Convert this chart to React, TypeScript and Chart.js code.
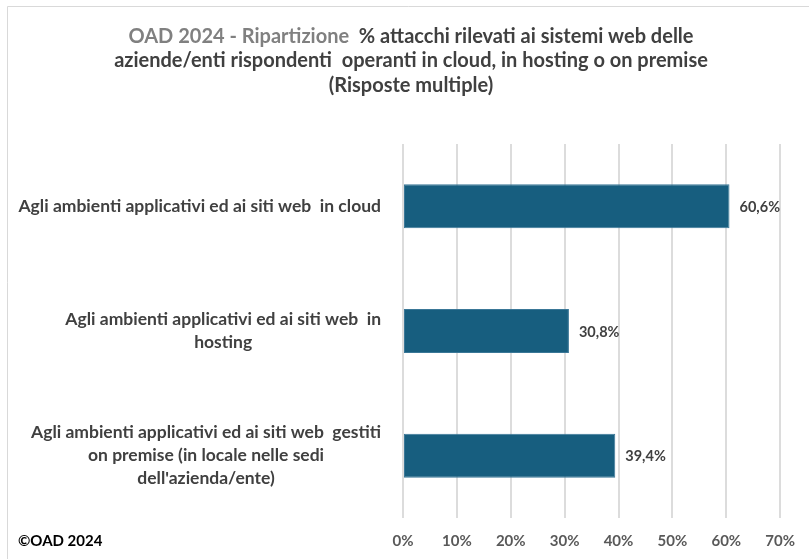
import React, { useEffect, useRef } from "react";
import { Chart, registerables } from "chart.js";

Chart.register(...registerables);

const categories: string[][] = [
  ["Agli ambienti applicativi ed ai siti web  in cloud"],
  ["Agli ambienti applicativi ed ai siti web  in", "hosting"],
  ["Agli ambienti applicativi ed ai siti web  gestiti", "on premise (in locale nelle sedi", "dell'azienda/ente)"],
];
const values: number[] = [60.6, 30.8, 39.4];
const xTicks: number[] = [0, 10, 20, 30, 40, 50, 60, 70];
const titleGray = "OAD 2024 - Ripartizione";
const titleLines: string[] = [
  "  % attacchi rilevati ai sistemi web delle",
  "aziende/enti rispondenti  operanti in cloud, in hosting o on premise",
  "(Risposte multiple)",
];
const footer = "©OAD 2024";

const FONT = "Lato, 'Open Sans', sans-serif";

const decorPlugin = {
  id: "decor",
  beforeDraw(chart: any) {
    const ctx = chart.ctx;
    ctx.save();
    ctx.fillStyle = "#ffffff";
    ctx.fillRect(0, 0, chart.width, chart.height);
    ctx.strokeStyle = "#d9d9d9";
    ctx.lineWidth = 1;
    ctx.beginPath();
    ctx.moveTo(7.5, chart.height);
    ctx.lineTo(7.5, 6.5);
    ctx.lineTo(chart.width, 6.5);
    ctx.stroke();
    ctx.restore();
  },
  afterDraw(chart: any) {
    const ctx = chart.ctx;
    ctx.save();
    // title
    ctx.font = `bold 20px ${FONT}`;
    ctx.textBaseline = "middle";
    const cx = 411;
    const w1 = ctx.measureText(titleGray).width;
    const w2 = ctx.measureText(titleLines[0]).width;
    const x0 = cx - (w1 + w2) / 2;
    ctx.textAlign = "left";
    ctx.fillStyle = "#808080";
    ctx.fillText(titleGray, x0, 37);
    ctx.fillStyle = "#404040";
    ctx.fillText(titleLines[0], x0 + w1, 37);
    ctx.textAlign = "center";
    ctx.fillText(titleLines[1], cx, 61);
    ctx.fillText(titleLines[2], cx, 86);

    // category labels
    const yScale = chart.scales.y;
    ctx.font = `bold 17.5px ${FONT}`;
    ctx.fillStyle = "#404040";
    const right = 381;
    const lh = 23;
    categories.forEach((lines, i) => {
      const yc = yScale.getPixelForTick(i);
      const maxW = Math.max(...lines.map((l) => ctx.measureText(l).width));
      const bx = right - maxW / 2;
      const startY = yc - ((lines.length - 1) * lh) / 2;
      lines.forEach((l, j) => ctx.fillText(l, bx, startY + j * lh));
    });

    // data labels
    const meta = chart.getDatasetMeta(0);
    ctx.font = `bold 14.5px ${FONT}`;
    ctx.textAlign = "left";
    meta.data.forEach((bar: any, i: number) => {
      ctx.fillText(values[i].toFixed(1).replace(".", ",") + "%", bar.x + 10, bar.y + 1);
    });

    // footer
    ctx.fillStyle = "#000000";
    ctx.font = `bold 15px ${FONT}`;
    ctx.fillText(footer, 18, 541);
    ctx.restore();
  },
};

export default function App() {
  const ref = useRef<HTMLCanvasElement | null>(null);
  useEffect(() => {
    if (!ref.current) return;
    const chart = new Chart(ref.current, {
      type: "bar",
      data: {
        labels: categories.map((c) => c.join(" ")),
        datasets: [
          {
            data: values,
            backgroundColor: "#175e7f",
            borderColor: "#3a7797",
            borderWidth: 1,
            borderSkipped: false,
            barPercentage: 0.353,
            categoryPercentage: 1,
          },
        ],
      },
      options: {
        indexAxis: "y",
        animation: false,
        responsive: false,
        maintainAspectRatio: false,
        layout: { padding: { left: 403, right: 24, top: 144, bottom: 0 } },
        plugins: { legend: { display: false }, tooltip: { enabled: false }, title: { display: false } },
        scales: {
          x: {
            min: 0,
            max: 70,
            afterFit: (s: any) => {
              s.height = 41;
            },
            afterBuildTicks: (s: any) => {
              s.ticks = xTicks.map((v) => ({ value: v }));
            },
            grid: { color: "#dcdcdc", lineWidth: 2, drawTicks: false },
            border: { display: false },
            ticks: {
              padding: 14,
              color: "#595959",
              font: { family: FONT, size: 15, weight: "bold" },
              callback: (v: any) => v + "%",
            },
          },
          y: {
            afterFit: (s: any) => {
              s.width = 0;
            },
            grid: { display: false },
            border: { display: false },
            ticks: { display: false },
          },
        },
      },
      plugins: [decorPlugin],
    });
    return () => chart.destroy();
  }, []);
  return (
    <div style={{ position: "fixed", left: 0, top: 0, width: 809, height: 559, background: "#fff" }}>
      <canvas ref={ref} width={809} height={559} style={{ width: 809, height: 559, display: "block" }} />
    </div>
  );
}
